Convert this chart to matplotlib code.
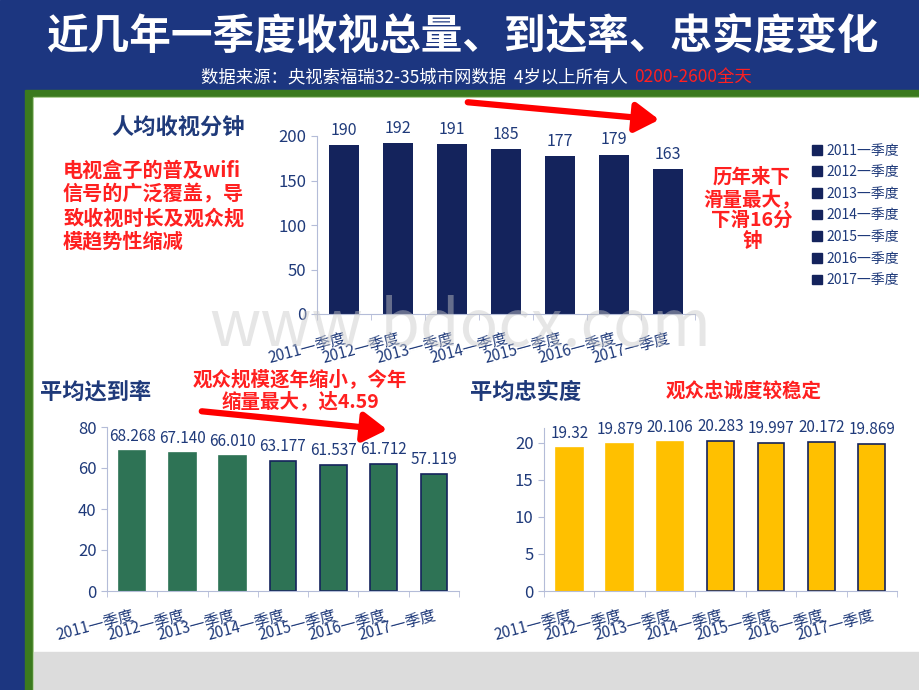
import numpy as np
import matplotlib
matplotlib.use('Agg')
import matplotlib.pyplot as plt
from matplotlib.patches import Rectangle, Patch, FancyArrowPatch

plt.rcParams['font.family'] = ['Noto Sans CJK SC', 'DejaVu Sans']

# data
years = ['2011一季度', '2012一季度', '2013一季度', '2014一季度',
         '2015一季度', '2016一季度', '2017一季度']
minutes = [190, 192, 191, 185, 177, 179, 163]
reach = [68.268, 67.140, 66.010, 63.177, 61.537, 61.712, 57.119]
reach_lbl = ['68.268', '67.140', '66.010', '63.177', '61.537', '61.712', '57.119']
loyal = [19.32, 19.879, 20.106, 20.283, 19.997, 20.172, 19.869]
loyal_lbl = ['19.32', '19.879', '20.106', '20.283', '19.997', '20.172', '19.869']

NAVY = '#1C3680'
DARK = '#14235C'
TXT = '#1F3A7A'
RED = '#FF2020'
AXC = '#B4BCD8'

W, H = 920, 690
def px(x, y):
    return x / W, 1 - y / H

fig = plt.figure(figsize=(9.2, 6.9), dpi=100)

# background blocks
def rect(x0, y0, x1, y1, c):
    fig.patches.append(Rectangle((x0 / W, 1 - y1 / H), (x1 - x0) / W, (y1 - y0) / H,
                                 transform=fig.transFigure, color=c, zorder=-10))
rect(0, 0, 920, 690, NAVY)
rect(25, 90, 920, 690, '#3B7A1E')
rect(33, 97, 920, 690, '#9CC47F')
rect(34, 98, 920, 690, 'white')
rect(34, 652, 920, 690, '#DCDCDC')

# header
fig.text(*px(462, 37), '近几年一季度收视总量、到达率、忠实度变化', color='white',
         fontsize=30, fontweight='bold', ha='center', va='center')
fig.text(*px(632, 77), '数据来源：央视索福瑞32-35城市网数据  4岁以上所有人 ', color='white',
         fontsize=12.5, ha='right', va='center')
fig.text(*px(634, 77), '0200-2600全天', color=RED, fontsize=12.5, ha='left', va='center')


def style(ax, ylim, yticks):
    ax.set_xlim(-0.5, 6.5)
    ax.set_ylim(*ylim)
    ax.set_yticks(yticks)
    for s in ['top', 'right']:
        ax.spines[s].set_visible(False)
    for s in ['left', 'bottom']:
        ax.spines[s].set_color(AXC)
    ax.set_xticks(range(7))
    ax.set_xticklabels(years, rotation=15, ha='right', rotation_mode='anchor')
    ax.set_xticks(np.arange(-0.5, 7, 1), minor=True)
    ax.tick_params(axis='x', which='major', length=0, pad=12, labelsize=11, labelcolor=TXT)
    ax.tick_params(axis='x', which='minor', length=4, color=AXC)
    ax.tick_params(axis='y', length=4, color=AXC, labelsize=12, labelcolor=TXT)
    ax.set_facecolor('none')


# top chart
ax1 = fig.add_axes([317 / W, 1 - 314 / H, 378 / W, 178 / H])
for i, v in enumerate(minutes):
    ax1.bar(i, v, width=0.54, color=DARK, label=years[i])
    ax1.text(i, v + 7, str(v), ha='center', va='bottom', fontsize=11.5, color=TXT)
style(ax1, (0, 200), [0, 50, 100, 150, 200])
fig.legend([Patch(color=DARK) for _ in years], years, loc='upper left',
           bbox_to_anchor=px(800, 131), frameon=False, fontsize=10, labelcolor=TXT,
           handlelength=0.7, handleheight=0.7, handletextpad=0.3, labelspacing=0.55)

# bottom left
ax2 = fig.add_axes([107 / W, 1 - 591 / H, 352 / W, 164 / H])
edges2 = ['#2E7355'] * 3 + [DARK] * 4
ax2.bar(range(7), reach, width=0.53, color='#2E7355', edgecolor=edges2, linewidth=1.2)
for i, v in enumerate(reach):
    ax2.text(i, v + 3, reach_lbl[i], ha='center', va='bottom', fontsize=11, color=TXT)
style(ax2, (0, 80), [0, 20, 40, 60, 80])

# bottom right
ax3 = fig.add_axes([544 / W, 1 - 591 / H, 353 / W, 163 / H])
edges3 = ['#FFC000'] * 3 + [DARK] * 4
ax3.bar(range(7), loyal, width=0.53, color='#FFC000', edgecolor=edges3, linewidth=1.2)
for i, v in enumerate(loyal):
    ax3.text(i, v + 0.8, loyal_lbl[i], ha='center', va='bottom', fontsize=11, color=TXT)
style(ax3, (0, 22), [0, 5, 10, 15, 20])

# titles
fig.text(*px(245, 128), '人均收视分钟', color='#1F3A7A', fontsize=16, fontweight='bold',
         ha='right', va='center')
fig.text(*px(40, 392), '平均达到率', color='#1F3A7A', fontsize=16, fontweight='bold',
         ha='left', va='center')
fig.text(*px(470, 392), '平均忠实度', color='#1F3A7A', fontsize=16, fontweight='bold',
         ha='left', va='center')

# red notes
fig.text(*px(63, 160), '电视盒子的普及wifi\n信号的广泛覆盖，导\n致收视时长及观众规\n模趋势性缩减',
         color=RED, fontsize=14.5, fontweight='bold', ha='left', va='top', linespacing=1.15)
fig.text(*px(752, 167), '历年来下\n滑量最大，\n下滑16分\n钟', color=RED, fontsize=14,
         fontweight='bold', ha='center', va='top', linespacing=1.15)
fig.text(*px(300, 390), '观众规模逐年缩小，今年\n缩量最大，达4.59', color=RED, fontsize=14,
         fontweight='bold', ha='center', va='center', linespacing=1.1)
fig.text(*px(744, 391), '观众忠诚度较稳定', color=RED, fontsize=14,
         fontweight='bold', ha='center', va='center')

# arrows
for a, b in [((465, 102), (662, 120)), ((199, 411), (390, 430))]:
    fig.add_artist(FancyArrowPatch(px(*a), px(*b), transform=fig.transFigure,
                                   arrowstyle='-|>,head_length=0.8,head_width=0.5',
                                   mutation_scale=18, lw=4.5, color='#FF0000'))

# watermark
fig.text(*px(460, 328), 'www.bdocx.com', color='#C8C8C8', alpha=0.45, fontsize=46,
         ha='center', va='center', zorder=10)

fig.savefig('out.png', dpi=100)
